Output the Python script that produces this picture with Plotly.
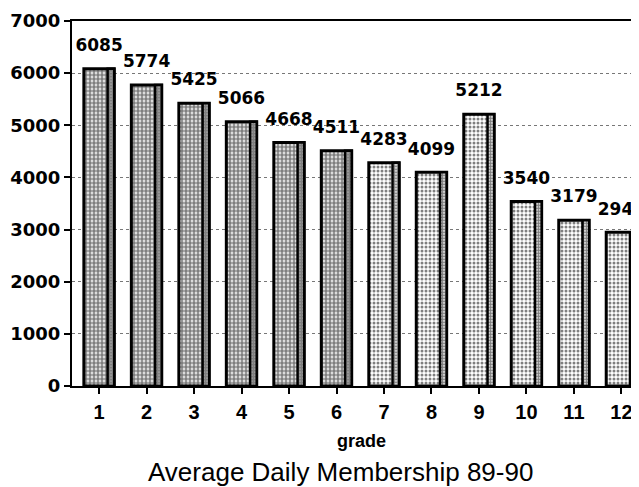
import plotly.graph_objects as go

grades = [1, 2, 3, 4, 5, 6, 7, 8, 9, 10, 11, 12]
membership = [6085, 5774, 5425, 5066, 4668, 4511, 4283, 4099, 5212, 3540, 3179, 2947]
y_ticks = [0, 1000, 2000, 3000, 4000, 5000, 6000, 7000]
title_text = "Average Daily Membership 89-90"
x_title = "grade"

dark = [g <= 6 for g in grades]
solidity = [0.7 if d else 0.45 for d in dark]
side_solidity = [0.85 if d else 0.7 for d in dark]

FONT = "Liberation Sans, Arial, Helvetica"
WIDE = "DejaVu Sans"

fig = go.Figure()
fig.add_trace(go.Bar(
    x=grades, y=membership,
    width=0.64,
    marker=dict(
        color="white",
        line=dict(color="black", width=3),
        pattern=dict(shape=".", fgcolor="black", bgcolor="white",
                     size=4, solidity=solidity, fillmode="overlay"),
    ),
    hoverinfo="skip",
))
# darker right-hand side face of each bar (pseudo 3D)
fig.add_trace(go.Bar(
    x=grades, y=membership,
    width=0.14, offset=0.18,
    marker=dict(
        color="white",
        line=dict(color="black", width=2.5),
        pattern=dict(shape=".", fgcolor="black", bgcolor="white",
                     size=3, solidity=side_solidity, fillmode="overlay"),
    ),
    hoverinfo="skip",
))
# value labels above the bars
fig.add_trace(go.Scatter(
    x=grades, y=membership,
    mode="markers+text",
    text=[str(v) for v in membership],
    textposition="top center",
    marker=dict(size=20, opacity=0),
    textfont=dict(family=WIDE, size=17, color="black", weight="bold"),
    cliponaxis=False,
    hoverinfo="skip",
))

fig.update_layout(
    width=631, height=479,
    margin=dict(l=64, r=0, t=13, b=101),
    paper_bgcolor="white", plot_bgcolor="white",
    showlegend=False,
    barmode="overlay",
    font=dict(family=FONT, color="black"),
    xaxis=dict(
        range=[0.43, 12.37],
        tickmode="array", tickvals=grades, ticktext=[str(g) for g in grades],
        tickfont=dict(size=20, family=FONT, weight="bold"),
        ticks="outside", ticklen=6, tickwidth=2, tickcolor="black",
        ticklabelstandoff=1,
        showline=True, linecolor="black", linewidth=2, mirror=True,
        showgrid=False, zeroline=False,
    ),
    yaxis=dict(
        range=[0, 7000],
        tickmode="array", tickvals=y_ticks, ticktext=[str(t) for t in y_ticks],
        tickfont=dict(size=18, family=WIDE, weight="bold"),
        ticks="outside", ticklen=6, tickwidth=2, tickcolor="black",
        ticklabeloverflow="allow",
        showline=True, linecolor="black", linewidth=2,
        showgrid=True, gridcolor="#777", griddash="dot", gridwidth=1,
        zeroline=False,
    ),
    annotations=[
        dict(text=x_title, xref="paper", yref="paper", x=0.51, y=0,
             yshift=-55, yanchor="middle", showarrow=False,
             font=dict(size=18, family=FONT, color="black", weight="bold")),
        dict(text=title_text, xref="paper", yref="paper", x=0.474, y=0,
             yshift=-86, yanchor="middle", showarrow=False,
             font=dict(size=26, family=FONT, color="black")),
    ],
)

fig.write_html("out.html")
